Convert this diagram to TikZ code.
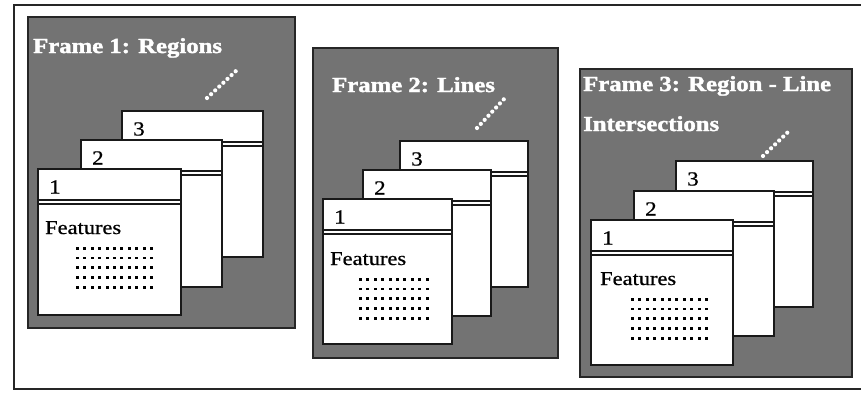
\documentclass[tikz,border=0pt]{standalone}
\usepackage{fontspec}
\setmainfont{Liberation Serif}
\newfontfamily\headfont[FakeBold=1.6]{Liberation Serif Bold}
\newfontfamily\cardfont[FakeBold=0.6]{Liberation Serif}
\usepackage{graphicx}
\definecolor{panelgray}{gray}{0.45}
% the lettering is set a little wider than the font's natural width
\newcommand\stretchx[1]{\scalebox{1.15}[1]{#1}}
% a block of 5 rows of square dots: \dotblock{x}{y}{number of dots per row}
\newcommand\dotblock[3]{%
  \foreach \r in {0,...,4}
    \foreach \c in {1,...,#3}
      \fill[black] ({#1+7.4*(\c-1)},{#2+9.9*\r-1.4}) rectangle ++(2.9,2.9);}
\begin{document}
\begin{tikzpicture}[x=1pt,y=-1pt,
  panel/.style={fill=panelgray, draw=black!85, line width=1.3pt},
  card/.style={fill=white, draw=black!90, line width=1.1pt},
  rule/.style={draw=black!90, line width=1.1pt},
  title/.style={anchor=base west, inner sep=0pt, text=white,
    font=\fontsize{21.5}{25}\headfont},
  num/.style={anchor=base west, inner sep=0pt, font=\fontsize{20}{22}\cardfont},
  feat/.style={anchor=base west, inner sep=0pt, font=\fontsize{19.5}{22}\cardfont},
  sparkle/.style={draw=white, line width=4.2pt, line cap=round,
    dash pattern=on 0pt off 5.6pt},
  pics/card/.style n args={3}{code={
     \draw[card] (0,0) rectangle (#1,#2);
     \draw[rule] (0,31) -- (#1,31) (0,35) -- (#1,35);
     \node[num] (label) at (11,24.5) {\stretchx{#3}};
  }}
]
\useasboundingbox (0,0) rectangle (861,392);
\clip (0,0) rectangle (861,392);
\fill[white] (0,0) rectangle (861,392);

% outer frame, open to the right
\draw[line width=1.4pt, black!85] (875,5) -- (14,5) -- (14,389) -- (875,389);

% ---- Frame 1 ----
\path[panel] (28,17) rectangle (295,328);
\node[title] (t1) at (33,53) {\stretchx{Frame 1: Regions}};
\draw[sparkle] (207,98) -- (237,70);
\pic (a3) at (122,111) {card={141}{146}{3}};
\pic (a2) at (81,140) {card={141}{147}{2}};
\pic (a1) at (38,169) {card={143}{146}{1}};
\node[feat] (f1) at (45,234) {\stretchx{Features}};
\dotblock{76}{248}{11}

% ---- Frame 2 ----
\path[panel] (313,48) rectangle (558,358);
\node[title] (t2) at (332,92) {\stretchx{Frame 2: Lines}};
\draw[sparkle] (477,128) -- (505,98);
\pic (b3) at (400,141) {card={128}{146}{3}};
\pic (b2) at (363,170) {card={128}{146}{2}};
\pic (b1) at (323,199) {card={129}{145}{1}};
\node[feat] (f2) at (330,265) {\stretchx{Features}};
\dotblock{359}{279}{10}

% ---- Frame 3 ----
\path[panel] (580,69) rectangle (852,377);
\node[title] (t3a) at (583,91) {\stretchx{Frame 3: Region - Line}};
\node[title] (t3b) at (583,131) {\stretchx{Intersections}};
\draw[sparkle] (763,156) -- (788,132);
\pic (c3) at (676,161) {card={137}{146}{3}};
\pic (c2) at (634,191) {card={140}{145}{2}};
\pic (c1) at (591,220) {card={142}{145}{1}};
\node[feat] (f3) at (600,285) {\stretchx{Features}};
\dotblock{631}{299}{11}
\end{tikzpicture}
\end{document}
